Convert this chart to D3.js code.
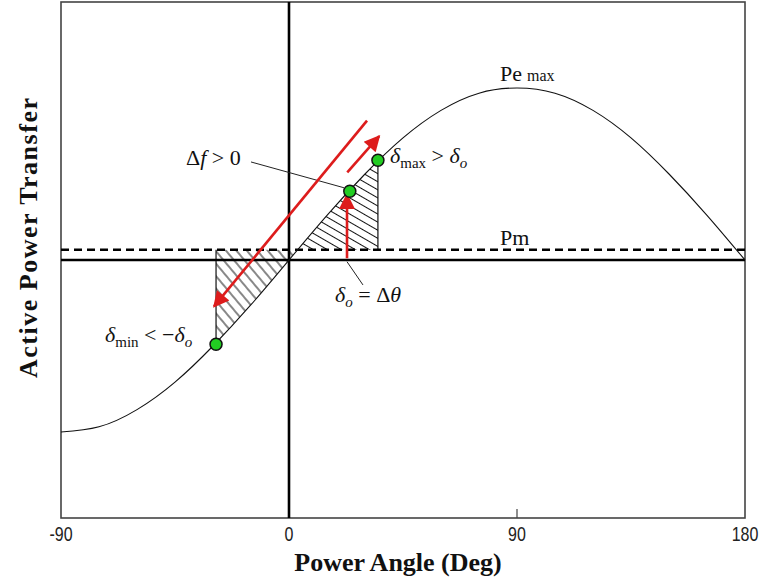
<!DOCTYPE html>
<html>
<head>
<meta charset="utf-8">
<script src="https://d3js.org/d3.v7.min.js"></script>
<style>
  body { margin: 0; background: #fff; }
  .tick-label { font-family: "Liberation Sans", Arial, sans-serif; font-size: 20px; fill: #222; }
  .axis-title { font-family: "Liberation Serif", "Times New Roman", serif; font-weight: bold; font-size: 26px; fill: #111; }
  .note { font-family: "Liberation Serif", "Times New Roman", serif; font-size: 22px; fill: #111; }
</style>
</head>
<body>
<div id="chart"></div>
<script>
// power angle curve (deg, per-unit of Pe max)
var angles = [-90, -75, -60, -45, -30, -15, 0, 15, 30, 45, 60, 75, 90, 105, 120, 135, 150, 165, 180];
var power  = [-1.00, -0.97, -0.87, -0.71, -0.50, -0.26, 0.00, 0.26, 0.50, 0.71, 0.87, 0.97, 1.00, 0.97, 0.87, 0.71, 0.50, 0.26, 0.00];
var xTicks = [-90, 0, 90, 180];
var pm = 0.06;

// operating points
var pointNames  = ['min', 'o', 'max'];
var pointAngles = [-28.8, 24, 35.1];
var pointPower  = [-0.49, 0.40, 0.58];

// red arrows: [fromAngle, fromP, toAngle, toP]
var arrows = [
  [30.8, 0.81, -29.6, -0.27],
  [23.0, 0.51, 35.6, 0.72],
  [22.9, 0.01, 22.9, 0.38]
];
// leader lines
var leaders = [
  [-15.0, 0.57, 21.7, 0.42],
  [22.9, -0.01, 29.2, -0.145]
];

var W = 762, H = 578;
var x = d3.scaleLinear().domain([-90, 180]).range([61, 745]);
var y = d3.scaleLinear().domain([-1.5, 1.5]).range([518, 2]);

var svg = d3.select('#chart').append('svg')
  .attr('width', W).attr('height', H);

var defs = svg.append('defs');
function hatch(id, angle, gap) {
  defs.append('pattern')
    .attr('id', id)
    .attr('patternUnits', 'userSpaceOnUse')
    .attr('width', 20).attr('height', gap)
    .attr('patternTransform', 'rotate(' + angle + ')')
    .append('line')
      .attr('x1', 0).attr('y1', gap / 2).attr('x2', 20).attr('y2', gap / 2)
      .attr('stroke', '#111').attr('stroke-width', 1);
}
hatch('hatchUp', 30, 7);
hatch('hatchDown', 50, 8);

defs.append('marker')
  .attr('id', 'head')
  .attr('viewBox', '0 0 10 10')
  .attr('refX', 9).attr('refY', 5)
  .attr('markerWidth', 19).attr('markerHeight', 16)
  .attr('markerUnits', 'userSpaceOnUse')
  .attr('orient', 'auto')
  .append('path')
    .attr('d', 'M0,0 L10,5 L0,10 Z')
    .attr('fill', '#dd1c1c');

var pts = angles.map(function(a, i) { return [a, power[i]]; });
var line = d3.line()
  .x(function(d) { return x(d[0]); })
  .y(function(d) { return y(d[1]); })
  .curve(d3.curveNatural);

// hatched areas between Pm and the curve
var cross = 3.4; // where curve meets Pm
function curveAt(a) {
  var i = d3.bisectRight(angles, a) - 1;
  i = Math.max(0, Math.min(angles.length - 2, i));
  var t = (a - angles[i]) / (angles[i + 1] - angles[i]);
  return power[i] + t * (power[i + 1] - power[i]);
}
function region(a0, a1) {
  var s = [];
  for (var a = a0; a <= a1 + 1e-9; a += (a1 - a0) / 20) s.push([a, curveAt(a)]);
  s.push([a1, pm]);
  s.push([a0, pm]);
  return s;
}
var poly = d3.line().x(function(d) { return x(d[0]); }).y(function(d) { return y(d[1]); });
svg.append('path')
  .attr('d', poly(region(cross, pointAngles[2])) + 'Z')
  .attr('fill', 'url(#hatchUp)');
svg.append('path')
  .attr('d', poly(region(pointAngles[0], cross)) + 'Z')
  .attr('fill', 'url(#hatchDown)');

// vertical lines at delta max and delta min
svg.append('line')
  .attr('x1', x(pointAngles[2])).attr('x2', x(pointAngles[2]))
  .attr('y1', y(pointPower[2])).attr('y2', y(pm))
  .attr('stroke', '#111').attr('stroke-width', 1.2);
svg.append('line')
  .attr('x1', x(pointAngles[0])).attr('x2', x(pointAngles[0]))
  .attr('y1', y(pm)).attr('y2', y(pointPower[0]))
  .attr('stroke', '#111').attr('stroke-width', 1.2);

// frame
svg.append('rect')
  .attr('x', x(-90)).attr('y', y(1.5))
  .attr('width', x(180) - x(-90)).attr('height', y(-1.5) - y(1.5))
  .attr('fill', 'none').attr('stroke', '#444').attr('stroke-width', 1.6);

// zero lines
svg.append('line')
  .attr('x1', x(0)).attr('x2', x(0)).attr('y1', y(1.5)).attr('y2', y(-1.5))
  .attr('stroke', '#000').attr('stroke-width', 2.6);
svg.append('line')
  .attr('x1', x(-90)).attr('x2', x(180)).attr('y1', y(0)).attr('y2', y(0))
  .attr('stroke', '#000').attr('stroke-width', 2.6);

// Pm dashed
svg.append('line')
  .attr('x1', x(-90)).attr('x2', x(180)).attr('y1', y(pm)).attr('y2', y(pm))
  .attr('stroke', '#000').attr('stroke-width', 2.4)
  .attr('stroke-dasharray', '8,5');

// tick at 90
svg.append('line')
  .attr('x1', x(90)).attr('x2', x(90)).attr('y1', y(-1.5)).attr('y2', y(-1.5) - 9)
  .attr('stroke', '#444').attr('stroke-width', 1.2);

// curve
svg.append('path')
  .attr('d', line(pts))
  .attr('fill', 'none').attr('stroke', '#111').attr('stroke-width', 1.1);

// leader lines
svg.selectAll('.leader').data(leaders).enter().append('line')
  .attr('class', 'leader')
  .attr('x1', function(d) { return x(d[0]); }).attr('y1', function(d) { return y(d[1]); })
  .attr('x2', function(d) { return x(d[2]); }).attr('y2', function(d) { return y(d[3]); })
  .attr('stroke', '#222').attr('stroke-width', 1);

// red arrows
svg.selectAll('.arrow').data(arrows).enter().append('line')
  .attr('class', 'arrow')
  .attr('x1', function(d) { return x(d[0]); }).attr('y1', function(d) { return y(d[1]); })
  .attr('x2', function(d) { return x(d[2]); }).attr('y2', function(d) { return y(d[3]); })
  .attr('stroke', '#dd1c1c').attr('stroke-width', 2.6)
  .attr('marker-end', 'url(#head)');

// points
svg.selectAll('.pt').data(pointAngles).enter().append('circle')
  .attr('class', 'pt')
  .attr('cx', function(d) { return x(d); })
  .attr('cy', function(d, i) { return y(pointPower[i]); })
  .attr('r', 6)
  .attr('fill', '#22cc22').attr('stroke', '#111').attr('stroke-width', 1.5);

// tick labels (narrow face)
svg.selectAll('.tick-label').data(xTicks).enter().append('text')
  .attr('class', 'tick-label')
  .attr('transform', function(d) { return 'translate(' + x(d) + ',541) scale(0.8,1)'; })
  .attr('text-anchor', 'middle')
  .text(function(d) { return d; });

svg.append('text').attr('class', 'axis-title')
  .attr('x', 398).attr('y', 571)
  .attr('text-anchor', 'middle')
  .text('Power Angle (Deg)');

svg.append('text').attr('class', 'axis-title')
  .attr('transform', 'translate(37,' + 238 + ') rotate(-90)')
  .attr('text-anchor', 'middle')
  .attr('textLength', 280).attr('lengthAdjust', 'spacing')
  .text('Active Power Transfer');

// annotations
var t;
t = svg.append('text').attr('class', 'note').attr('x', 500).attr('y', 81);
t.append('tspan').text('Pe');
t.append('tspan').attr('dx', 5).style('font-size', '16px').text('max');

svg.append('text').attr('class', 'note').attr('x', 500).attr('y', 245).text('Pm');

t = svg.append('text').attr('class', 'note').attr('x', 186).attr('y', 165);
t.append('tspan').text('\u0394');
t.append('tspan').style('font-style', 'italic').text('f');
t.append('tspan').text(' > 0');

t = svg.append('text').attr('class', 'note').attr('x', 390).attr('y', 163);
t.append('tspan').style('font-style', 'italic').text('\u03b4');
t.append('tspan').attr('dy', 5).style('font-size', '15px').text('max');
t.append('tspan').attr('dy', -5).text(' > ');
t.append('tspan').style('font-style', 'italic').text('\u03b4');
t.append('tspan').attr('dy', 5).style('font-size', '15px').style('font-style', 'italic').text('o');

t = svg.append('text').attr('class', 'note').attr('x', 335).attr('y', 302);
t.append('tspan').style('font-style', 'italic').text('\u03b4');
t.append('tspan').attr('dy', 5).style('font-size', '15px').style('font-style', 'italic').text('o');
t.append('tspan').attr('dy', -5).text(' = \u0394');
t.append('tspan').style('font-style', 'italic').text('\u03b8');

t = svg.append('text').attr('class', 'note').attr('x', 105).attr('y', 342);
t.append('tspan').style('font-style', 'italic').text('\u03b4');
t.append('tspan').attr('dy', 5).style('font-size', '15px').text('min');
t.append('tspan').attr('dy', -5).text(' < \u2212');
t.append('tspan').style('font-style', 'italic').text('\u03b4');
t.append('tspan').attr('dy', 5).style('font-size', '15px').style('font-style', 'italic').text('o');
</script>
</body>
</html>
